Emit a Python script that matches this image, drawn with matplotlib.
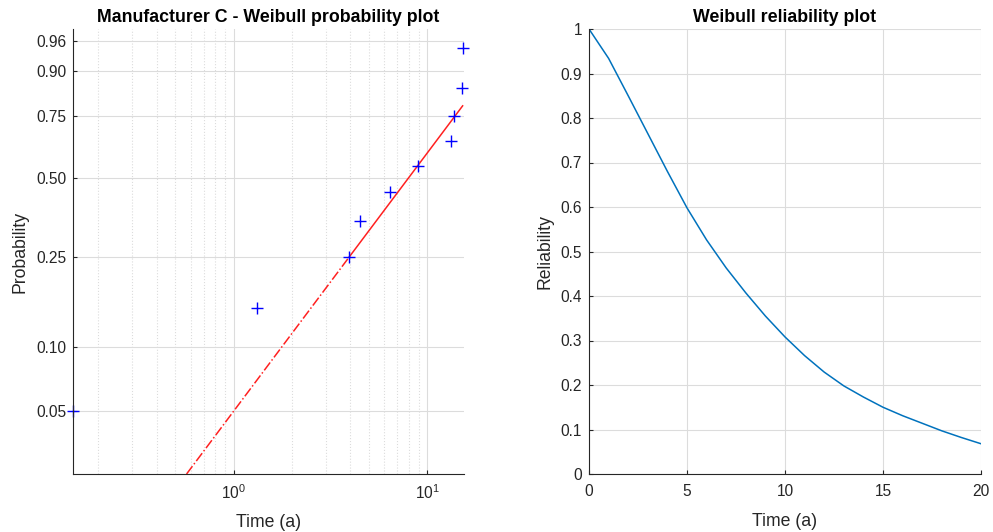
import numpy as np
import matplotlib
matplotlib.use('Agg')
import matplotlib.pyplot as plt
from matplotlib.ticker import LogLocator, FixedLocator, FixedFormatter, NullFormatter

# failure times (years), with median ranks
fail_t = [0.148, 1.32, 3.95, 4.51, 6.43, 8.99, 13.2, 13.7, 15.0, 15.2]
fail_p = [0.05, 0.15, 0.25, 0.35, 0.45, 0.55, 0.65, 0.75, 0.85, 0.95]

# reference line: dash-dot part, then solid part
ref_dash_t = [0.571, 3.95]
ref_dash_p = [0.025, 0.25]
ref_solid_t = [3.95, 15.2]
ref_solid_p = [0.25, 0.79]

prob_ticks = [0.05, 0.10, 0.25, 0.50, 0.75, 0.90, 0.96]
prob_labels = ['0.05', '0.10', '0.25', '0.50', '0.75', '0.90', '0.96']

# reliability curve read at whole years
rel_t = list(range(0, 21))
rel_r = [1.000, 0.934, 0.850, 0.765, 0.680, 0.598, 0.526, 0.463, 0.407, 0.355,
         0.308, 0.266, 0.229, 0.198, 0.173, 0.150, 0.131, 0.114, 0.097, 0.082, 0.068]

plt.rcParams['font.family'] = ['Liberation Sans', 'DejaVu Sans']
plt.rcParams['mathtext.default'] = 'regular'

txt = '#262626'
gridc = '#dcdcdc'


def wbl_fwd(p):
    p = np.clip(np.asarray(p, dtype=float), 1e-9, 1 - 1e-9)
    return np.log(-np.log1p(-p))


def wbl_inv(y):
    return -np.expm1(-np.exp(np.asarray(y, dtype=float)))


def style(ax):
    for s in ['top', 'right']:
        ax.spines[s].set_visible(False)
    for s in ['left', 'bottom']:
        ax.spines[s].set_color(txt)
        ax.spines[s].set_linewidth(0.8)
    ax.tick_params(which='both', direction='in', colors=txt, labelsize=11.2, length=3)
    ax.tick_params(axis='x', pad=7)
    ax.tick_params(axis='y', pad=5)
    ax.tick_params(which='minor', length=0)
    ax.set_axisbelow(True)


fig = plt.figure(figsize=(9.93, 5.32), dpi=100)

# left: weibull probability plot
ax1 = fig.add_axes([73/993, 58/532, 391/993, 445/532])
ax1.set_xscale('log')
ax1.set_yscale('function', functions=(wbl_fwd, wbl_inv))
ax1.grid(True, which='major', axis='both', color=gridc, lw=0.8)
ax1.grid(True, which='minor', axis='x', color=gridc, lw=0.8, ls=':')
ax1.plot(ref_dash_t, ref_dash_p, color='#ff2020', lw=1.1, ls='-.')
ax1.plot(ref_solid_t, ref_solid_p, color='#ff2020', lw=1.1, ls='-')
ax1.plot(fail_t, fail_p, ls='none', marker='+', color='blue', ms=9, mew=1.0, clip_on=False)
ax1.set_xlim(0.148, 15.45)
ax1.set_ylim(0.025, 0.975)
ax1.xaxis.set_major_locator(LogLocator(base=10, numticks=10))
ax1.xaxis.set_minor_locator(LogLocator(base=10, subs=np.arange(2, 10), numticks=10))
ax1.xaxis.set_minor_formatter(NullFormatter())
ax1.yaxis.set_major_locator(FixedLocator(prob_ticks))
ax1.yaxis.set_major_formatter(FixedFormatter(prob_labels))
ax1.yaxis.set_minor_locator(FixedLocator([]))
style(ax1)
ax1.set_title('Manufacturer C - Weibull probability plot', fontsize=12.8, fontweight='bold', pad=5)
ax1.set_xlabel('Time (a)', fontsize=12.7, color=txt, labelpad=8)
ax1.set_ylabel('Probability', fontsize=12.7, color=txt, labelpad=5)

# right: reliability
ax2 = fig.add_axes([589/993, 58/532, 392/993, 445/532])
ax2.grid(True, color=gridc, lw=0.8)
ax2.plot(rel_t, rel_r, color='#0072BD', lw=1.1)
ax2.set_xlim(0, 20)
ax2.set_ylim(0, 1)
ax2.set_xticks([0, 5, 10, 15, 20])
ax2.set_yticks(np.round(np.arange(0, 1.01, 0.1), 1))
ax2.set_yticklabels(['0', '0.1', '0.2', '0.3', '0.4', '0.5', '0.6', '0.7', '0.8', '0.9', '1'])
style(ax2)
ax2.set_title('Weibull reliability plot', fontsize=12.8, fontweight='bold', pad=5)
ax2.set_xlabel('Time (a)', fontsize=12.7, color=txt, labelpad=10)
ax2.set_ylabel('Reliability', fontsize=12.7, color=txt, labelpad=5)

fig.savefig('out.png', dpi=100)
